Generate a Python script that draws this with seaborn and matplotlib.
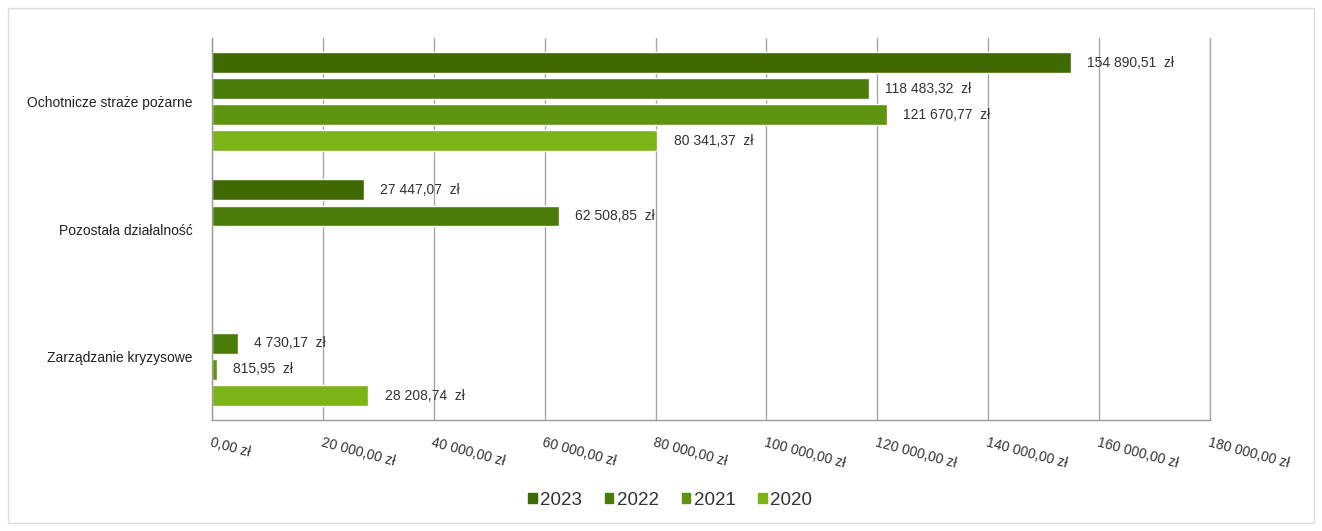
import numpy as np
import pandas as pd
import matplotlib
matplotlib.use("Agg")
import matplotlib.pyplot as plt
import matplotlib.patches as mpatches
import seaborn as sns

categories = ["Ochotnicze straże pożarne", "Pozostała działalność", "Zarządzanie kryzysowe"]
years = ["2023", "2022", "2021", "2020"]
v2023 = [154890.51, 27447.07, np.nan]
v2022 = [118483.32, 62508.85, 4730.17]
v2021 = [121670.77, np.nan, 815.95]
v2020 = [80341.37, np.nan, 28208.74]
colors = ["#3f6a02", "#4b7b08", "#5f9410", "#7cb316"]
xticks = [0, 20000, 40000, 60000, 80000, 100000, 120000, 140000, 160000, 180000]

def pl(v, dec=2):
    s = f"{v:,.{dec}f}"
    return s.replace(",", " ").replace(".", ",")

rows = []
for yr, vals in zip(years, [v2023, v2022, v2021, v2020]):
    for c, v in zip(categories, vals):
        rows.append({"cat": c, "year": yr, "value": v})
df = pd.DataFrame(rows)

sns.set_style("white")
plt.rcParams['font.family'] = ['Liberation Sans', 'DejaVu Sans']
fig = plt.figure(figsize=(13.22, 5.31), dpi=100)
ax = fig.add_axes([0.1604, 0.209, 0.9153 - 0.1604, 0.9284 - 0.209])

sns.barplot(data=df.dropna(), x="value", y="cat", hue="year", order=categories,
            hue_order=years, palette=colors, orient="h", dodge=True, gap=0.2,
            width=0.82, ax=ax, legend=True, errorbar=None, saturation=1)

ax.set_xlim(0, 180000)
ax.set_ylim(2.5, -0.5)
ax.set_xticks(xticks)
ax.set_xticklabels([pl(t) + " zł" for t in xticks], rotation=-15, ha="left",
                   va="top", rotation_mode="anchor", fontsize=10, color="#333333")
ax.tick_params(axis="x", length=5, color="#9a9a9a", width=1, pad=6)
ax.xaxis.grid(True, color="#a8a8a8", lw=1)
ax.axvline(180000, color="#a8a8a8", lw=1, clip_on=False, zorder=0)
ax.set_axisbelow(True)
ax.set_xlabel("")
ax.set_ylabel("")
ax.tick_params(axis="y", length=0, labelsize=10, labelcolor="#222222", pad=14)
ax.set_yticks([-0.5, 0.5, 1.5, 2.5], minor=True)
ax.tick_params(axis="y", which="minor", length=4, color="#9a9a9a")
for s in ["top", "right"]:
    ax.spines[s].set_visible(False)
for s in ["left", "bottom"]:
    ax.spines[s].set_color("#9a9a9a")
    ax.spines[s].set_linewidth(1)

for cont in ax.containers:
    for bar in cont:
        w = bar.get_width()
        if np.isnan(w) or w == 0:
            continue
        ax.text(w + 2900, bar.get_y() + bar.get_height() / 2, pl(w) + "  zł",
                va="center", ha="left", fontsize=10, color="#333333")

ax.legend_.remove()
handles = [mpatches.Patch(color=c, label=y) for c, y in zip(colors, years)]
fig.legend(handles=handles, loc="center", bbox_to_anchor=(0.507, 0.058), ncol=4,
           frameon=False, fontsize=13.5, handlelength=0.45, handleheight=0.45,
           handletextpad=0.2, columnspacing=1.2, labelcolor="#333333")

fig.patches.append(mpatches.Rectangle((8 / 1322, 8 / 531), 1 - 16 / 1322, 1 - 16 / 531,
                                      transform=fig.transFigure, fill=False,
                                      edgecolor="#dddddd", lw=1))
fig.savefig("out.png", dpi=100)
